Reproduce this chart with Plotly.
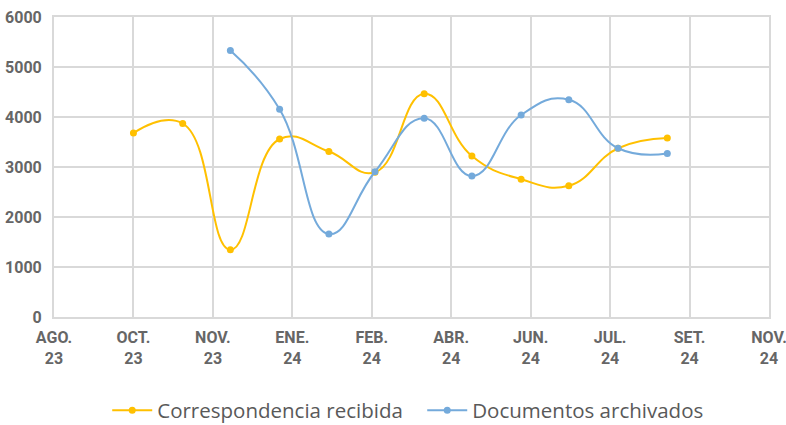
import plotly.graph_objects as go

months = ["2023-10-01", "2023-11-01", "2023-12-01", "2024-01-01", "2024-02-01", "2024-03-01",
          "2024-04-01", "2024-05-01", "2024-06-01", "2024-07-01", "2024-08-01", "2024-09-01"]
correspondencia = [3680, 3870, 1345, 3560, 3310, 2895, 4465, 3220, 2755, 2625, 3375, 3580]
doc_months = months[2:]
documentos = [5330, 4155, 1660, 2905, 3975, 2820, 4040, 4345, 3375, 3270]

tick_dates = ["2023-08-12", "2023-10-01", "2023-11-20", "2024-01-09", "2024-02-28",
              "2024-04-18", "2024-06-07", "2024-07-27", "2024-09-15", "2024-11-04"]
tick_text = ["AGO.<br>23", "OCT.<br>23", "NOV.<br>23", "ENE.<br>24", "FEB.<br>24",
             "ABR.<br>24", "JUN.<br>24", "JUL.<br>24", "SET.<br>24", "NOV.<br>24"]
y_ticks = [0, 1000, 2000, 3000, 4000, 5000, 6000]

YELLOW = "#FFC000"
BLUE = "#74AADB"
GRID = "#D9D9D9"
TXT = "#666666"
TICKFONT = dict(family="Roboto, sans-serif", size=16, color=TXT, weight="bold")

fig = go.Figure()
fig.add_trace(go.Scatter(x=months, y=correspondencia, name="Correspondencia recibida",
                         mode="lines+markers", line=dict(color=YELLOW, width=2, shape="spline", smoothing=1.3),
                         marker=dict(size=7, color=YELLOW)))
fig.add_trace(go.Scatter(x=doc_months, y=documentos, name="Documentos archivados",
                         mode="lines+markers", line=dict(color=BLUE, width=2, shape="spline", smoothing=1.3),
                         marker=dict(size=7, color=BLUE)))

fig.update_layout(
    width=786, height=425,
    margin=dict(l=54, r=17, t=17, b=108, autoexpand=False),
    paper_bgcolor="white", plot_bgcolor="white",
    showlegend=True,
    legend=dict(orientation="h", x=0.515, xanchor="center", y=-0.245, yanchor="top",
                font=dict(family="Open Sans, sans-serif", size=20.5, color="#595959"),
                itemwidth=40, tracegroupgap=0, entrywidth=260, entrywidthmode="pixels"),
    xaxis=dict(type="date", range=[tick_dates[0], tick_dates[-1]], automargin=False,
               tickmode="array", tickvals=tick_dates, ticktext=tick_text,
               showgrid=True, gridcolor=GRID, gridwidth=2,
               showline=True, linecolor=GRID, linewidth=2, mirror=True,
               zeroline=False, ticks="", ticklen=0, ticklabelstandoff=5,
               ticklabeloverflow="allow",
               tickfont=TICKFONT),
    yaxis=dict(range=[0, 6000], tickmode="array", tickvals=y_ticks, automargin=False,
               showgrid=True, gridcolor=GRID, gridwidth=2,
               showline=True, linecolor=GRID, linewidth=2, mirror=True,
               zeroline=False, ticks="", ticklabelstandoff=7,
               tickfont=TICKFONT),
)

post = "document.body.style.margin = '0';"
fig.write_html("out.html", post_script=post, config={"displayModeBar": False})
